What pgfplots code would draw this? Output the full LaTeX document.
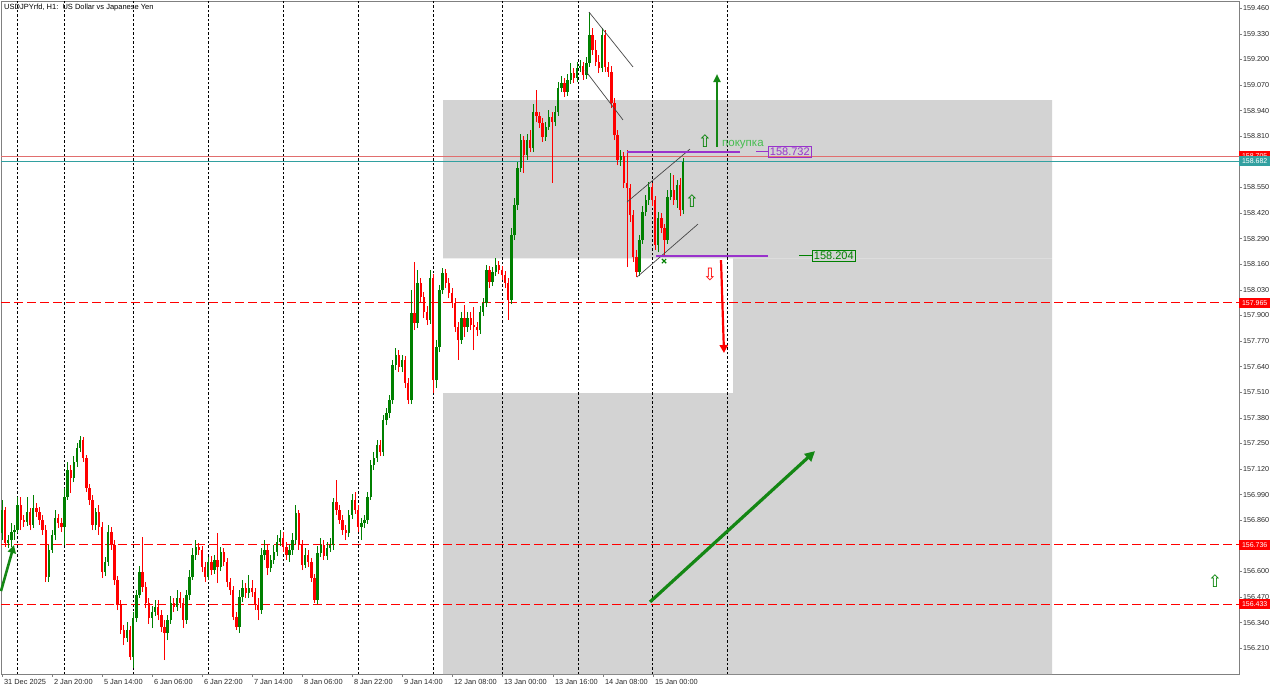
\documentclass[border=0pt]{standalone}
\usepackage{fontspec}
\setmainfont{Liberation Sans}
\newfontfamily\dejavu{DejaVu Sans}
\usepackage{pgfplots}
\usepackage{pgfplotstable}
\pgfplotsset{compat=1.18}
\usetikzlibrary{arrows.meta}
\definecolor{cgreen}{RGB}{0,128,0}
\definecolor{cred}{RGB}{255,0,0}
\definecolor{rectgray}{RGB}{211,211,211}
\definecolor{purp}{RGB}{153,50,204}
\definecolor{tealc}{RGB}{50,160,160}
\definecolor{pinkred}{RGB}{225,110,110}
\definecolor{lime2}{RGB}{70,190,80}
\definecolor{agreen}{RGB}{20,135,20}
\definecolor{tickgray}{RGB}{40,40,40}
\definecolor{chan}{RGB}{70,70,70}

\pgfplotstableread{
i o h l c
0 156.795 156.963 156.759 156.912
1 156.912 156.927 156.723 156.744
2 156.744 156.785 156.718 156.759
3 156.759 156.846 156.723 156.800
4 156.800 156.836 156.759 156.810
5 156.810 156.978 156.795 156.937
6 156.937 156.978 156.810 156.861
7 156.861 156.887 156.825 156.851
8 156.851 156.978 156.830 156.902
9 156.902 156.922 156.810 156.836
10 156.836 156.988 156.820 156.922
11 156.922 156.948 156.877 156.902
12 156.902 156.927 156.836 156.861
13 156.861 156.887 156.785 156.810
14 156.810 156.836 156.545 156.571
15 156.571 156.734 156.545 156.709
16 156.709 156.810 156.694 156.785
17 156.785 156.912 156.759 156.871
18 156.871 156.892 156.820 156.846
19 156.846 156.871 156.800 156.825
20 156.825 157.023 156.734 156.978
21 156.978 157.156 156.963 157.115
22 157.115 157.140 156.998 157.074
23 157.074 157.186 157.054 157.156
24 157.156 157.252 157.130 157.227
25 157.227 157.287 157.206 157.267
26 157.267 157.282 157.156 157.176
27 157.176 157.191 157.003 157.023
28 157.023 157.044 156.937 156.963
29 156.963 156.988 156.810 156.836
30 156.836 156.922 156.810 156.902
31 156.902 156.937 156.785 156.825
32 156.825 156.851 156.566 156.597
33 156.597 156.673 156.576 156.648
34 156.648 156.836 156.627 156.800
35 156.800 156.825 156.709 156.734
36 156.734 156.759 156.530 156.556
37 156.556 156.576 156.404 156.430
38 156.430 156.455 156.282 156.302
39 156.302 156.327 156.226 156.261
40 156.261 156.343 156.241 156.302
41 156.302 156.322 156.150 156.165
42 156.165 156.394 156.109 156.363
43 156.363 156.505 156.343 156.480
44 156.480 156.627 156.465 156.597
45 156.597 156.774 156.495 156.520
46 156.520 156.545 156.414 156.440
47 156.440 156.465 156.333 156.363
48 156.363 156.424 156.312 156.394
49 156.394 156.455 156.373 156.419
50 156.419 156.455 156.353 156.378
51 156.378 156.404 156.292 156.317
52 156.317 156.353 156.150 156.287
53 156.287 156.378 156.251 156.353
54 156.353 156.475 156.333 156.440
55 156.440 156.465 156.394 156.419
56 156.419 156.505 156.399 156.465
57 156.465 156.495 156.414 156.440
58 156.440 156.465 156.312 156.353
59 156.353 156.505 156.333 156.480
60 156.480 156.607 156.455 156.571
61 156.571 156.718 156.556 156.684
62 156.684 156.759 156.658 156.723
63 156.723 156.744 156.684 156.709
64 156.709 156.729 156.597 156.622
65 156.622 156.648 156.545 156.571
66 156.571 156.673 156.556 156.648
67 156.648 156.678 156.581 156.607
68 156.607 156.684 156.587 156.658
69 156.658 156.795 156.540 156.622
70 156.622 156.723 156.602 156.699
71 156.699 156.718 156.627 156.648
72 156.648 156.668 156.520 156.545
73 156.545 156.566 156.480 156.505
74 156.505 156.525 156.353 156.368
75 156.368 156.394 156.302 156.317
76 156.317 156.505 156.287 156.470
77 156.470 156.556 156.445 156.515
78 156.515 156.540 156.465 156.490
79 156.490 156.581 156.465 156.515
80 156.515 156.556 156.470 156.495
81 156.495 156.515 156.404 156.430
82 156.430 156.465 156.353 156.404
83 156.404 156.718 156.384 156.684
84 156.684 156.759 156.658 156.709
85 156.709 156.734 156.581 156.617
86 156.617 156.684 156.597 156.658
87 156.658 156.734 156.638 156.699
88 156.699 156.785 156.678 156.749
89 156.749 156.810 156.729 156.769
90 156.769 156.800 156.699 156.723
91 156.723 156.749 156.658 156.684
92 156.684 156.734 156.648 156.709
93 156.709 156.795 156.684 156.759
94 156.759 156.937 156.739 156.897
95 156.897 156.912 156.709 156.734
96 156.734 156.759 156.607 156.632
97 156.632 156.718 156.617 156.684
98 156.684 156.709 156.622 156.648
99 156.648 156.668 156.545 156.566
100 156.566 156.587 156.440 156.455
101 156.455 156.729 156.435 156.694
102 156.694 156.769 156.673 156.734
103 156.734 156.759 156.658 156.678
104 156.678 156.749 156.658 156.718
105 156.718 156.769 156.699 156.734
106 156.734 156.973 156.709 156.953
107 156.953 157.064 156.887 156.912
108 156.912 156.937 156.841 156.861
109 156.861 156.887 156.785 156.810
110 156.810 156.836 156.759 156.795
111 156.795 156.912 156.774 156.887
112 156.887 156.993 156.866 156.963
113 156.963 157.003 156.892 156.912
114 156.912 156.937 156.800 156.825
115 156.825 156.871 156.759 156.846
116 156.846 156.887 156.820 156.861
117 156.861 157.003 156.841 156.978
118 156.978 157.166 156.963 157.140
119 157.140 157.206 157.115 157.176
120 157.176 157.267 157.156 157.242
121 157.242 157.267 157.186 157.206
122 157.206 157.394 157.186 157.369
123 157.369 157.430 157.343 157.404
124 157.404 157.495 157.379 157.470
125 157.470 157.674 157.450 157.648
126 157.648 157.734 157.623 157.699
127 157.699 157.724 157.613 157.638
128 157.638 157.699 157.613 157.674
129 157.674 157.694 157.531 157.557
130 157.557 157.582 157.450 157.470
131 157.470 158.029 157.450 157.913
132 157.913 158.171 157.826 157.862
133 157.862 158.131 157.836 158.065
134 158.065 158.090 157.968 157.993
135 157.993 158.019 157.887 157.918
136 157.918 157.948 157.851 157.877
137 157.877 158.131 157.857 158.090
138 158.090 158.110 157.506 157.572
139 157.572 157.775 157.531 157.739
140 157.739 158.054 157.714 158.029
141 158.029 158.141 158.009 158.115
142 158.115 158.136 158.039 158.065
143 158.065 158.090 157.988 158.014
144 158.014 158.039 157.938 157.963
145 157.963 157.988 157.816 157.841
146 157.841 157.867 157.674 157.775
147 157.775 157.918 157.755 157.887
148 157.887 157.953 157.790 157.841
149 157.841 157.918 157.816 157.887
150 157.887 157.918 157.826 157.851
151 157.851 157.943 157.724 157.841
152 157.841 157.867 157.795 157.826
153 157.826 157.948 157.806 157.918
154 157.918 157.988 157.897 157.963
155 157.963 158.156 157.943 158.131
156 158.131 158.151 158.039 158.070
157 158.070 158.146 158.049 158.120
158 158.120 158.191 158.100 158.156
159 158.156 158.176 158.110 158.131
160 158.131 158.151 158.080 158.105
161 158.105 158.126 158.039 158.065
162 158.065 158.090 157.877 157.978
163 157.978 158.344 157.958 158.308
164 158.308 158.496 158.283 158.461
165 158.461 158.679 158.435 158.648
166 158.648 158.821 158.628 158.791
167 158.791 158.811 158.623 158.714
168 158.714 158.821 158.689 158.791
169 158.791 158.842 158.730 158.750
170 158.750 158.974 158.730 158.933
171 158.933 159.045 158.882 158.913
172 158.913 158.933 158.852 158.877
173 158.877 158.903 158.781 158.806
174 158.806 158.882 158.786 158.857
175 158.857 158.943 158.842 158.908
176 158.908 158.933 158.573 158.882
177 158.882 158.963 158.862 158.933
178 158.933 159.085 158.913 159.055
179 159.055 159.116 159.035 159.080
180 159.080 159.106 159.009 159.035
181 159.035 159.126 159.014 159.096
182 159.096 159.182 159.075 159.131
183 159.131 159.157 159.080 159.106
184 159.106 159.187 159.085 159.157
185 159.157 159.197 159.136 159.167
186 159.167 159.187 159.096 159.121
187 159.121 159.212 159.101 159.182
188 159.182 159.441 159.162 159.324
189 159.324 159.360 159.223 159.248
190 159.248 159.299 159.167 159.187
191 159.187 159.223 159.131 159.157
192 159.157 159.360 159.136 159.324
193 159.324 159.350 159.136 159.162
194 159.162 159.187 159.111 159.136
195 159.136 159.167 158.953 158.979
196 158.979 159.004 158.791 158.816
197 158.816 158.842 158.664 158.689
198 158.689 158.740 158.659 158.710
199 158.710 158.730 158.547 158.573
200 158.573 158.740 158.146 158.547
201 158.547 158.567 158.374 158.410
202 158.410 158.435 158.171 158.196
203 158.196 158.232 158.095 158.120
204 158.120 158.308 158.100 158.283
205 158.283 158.456 158.263 158.425
206 158.425 158.511 158.405 158.486
207 158.486 158.578 158.461 158.552
208 158.552 158.573 158.456 158.486
209 158.486 158.506 158.232 158.258
210 158.258 158.425 158.222 158.395
211 158.395 158.420 158.318 158.344
212 158.344 158.364 158.196 158.283
213 158.283 158.537 158.263 158.501
214 158.501 158.623 158.486 158.537
215 158.537 158.613 158.461 158.486
216 158.486 158.588 158.446 158.562
217 158.562 158.598 158.405 158.435
218 158.435 158.699 158.415 158.679
}\candles

\begin{document}
\begin{tikzpicture}
\useasboundingbox (0,0) rectangle (1280pt,691pt);
\begin{axis}[
  at={(1pt,17pt)}, anchor=south west,
  scale only axis, width=1238pt, height=673pt,
  xmin=1, xmax=1239, ymin=156.079, ymax=159.497,
  clip=false,
  axis line style={draw=gray, line width=0.8pt},
  tick align=outside, major tick length=3pt,
  tick style={draw=gray, line width=0.6pt},
  xtick pos=bottom, ytick pos=right, yticklabel pos=right,
  ytick={156.21,156.34,156.47,156.60,156.73,156.86,156.99,157.12,157.25,157.38,157.51,157.64,157.77,157.90,158.03,158.16,158.29,158.42,158.55,158.68,158.81,158.94,159.07,159.20,159.33,159.46},
  yticklabel style={font=\fontsize{7.2}{8}\selectfont, text=tickgray, inner xsep=1pt, /pgf/number format/.cd, fixed, fixed zerofill, precision=3, assume math mode=true},
  xtick={2,52,102,152,202,252,302,352,402,452,502,553,603,653},
  xticklabels={31 Dec 2025, 2 Jan 20:00, 5 Jan 14:00, 6 Jan 06:00, 6 Jan 22:00, 7 Jan 14:00, 8 Jan 06:00, 8 Jan 22:00, 9 Jan 14:00, 12 Jan 08:00, 13 Jan 00:00, 13 Jan 16:00, 14 Jan 08:00, 15 Jan 00:00},
  xticklabel style={font=\fontsize{7.4}{8}\selectfont, text=tickgray, anchor=north west, xshift=-1.5pt, inner ysep=2pt},
  candle/.style={draw=none, mark=none, forget plot,
    error bars/y dir=plus, error bars/y explicit, error bars/error mark=none},
]
% gray zones
\addplot[fill=rectgray, draw=none, forget plot] coordinates {(443,158.190) (1052,158.190) (1052,158.994) (443,158.994) (443,158.190)};
\addplot[fill=rectgray, draw=none, forget plot] coordinates {(733,157.506) (1052,157.506) (1052,158.190) (733,158.190) (733,157.506)};
\addplot[fill=rectgray, draw=none, forget plot] coordinates {(443,156.079) (1052,156.079) (1052,157.506) (443,157.506) (443,156.079)};
% day separators
\pgfplotsset{sep/.style={draw=black, line width=0.7pt, dash pattern=on 2.5pt off 2pt, forget plot}}
\addplot[sep] coordinates {(17,156.079) (17,159.497)};
\addplot[sep] coordinates {(64,156.079) (64,159.497)};
\addplot[sep] coordinates {(133,156.079) (133,159.497)};
\addplot[sep] coordinates {(208,156.079) (208,159.497)};
\addplot[sep] coordinates {(283,156.079) (283,159.497)};
\addplot[sep] coordinates {(358,156.079) (358,159.497)};
\addplot[sep] coordinates {(433,156.079) (433,159.497)};
\addplot[sep] coordinates {(502,156.079) (502,159.497)};
\addplot[sep] coordinates {(578,156.079) (578,159.497)};
\addplot[sep] coordinates {(652,156.079) (652,159.497)};
\addplot[sep] coordinates {(727,156.079) (727,159.497)};
% horizontal levels
\addplot[draw=pinkred, line width=1.1pt, forget plot] coordinates {(1,158.705) (1239,158.705)};
\addplot[draw=tealc, line width=1.1pt, forget plot] coordinates {(1,158.682) (1239,158.682)};
\pgfplotsset{lvl/.style={draw=cred, line width=0.9pt, dash pattern=on 9pt off 4pt, forget plot}}
\addplot[lvl] coordinates {(1,157.965) (1239,157.965)};
\addplot[lvl] coordinates {(1,156.736) (1239,156.736)};
\addplot[lvl] coordinates {(1,156.433) (1239,156.433)};
% candles: wicks and bodies
\addplot[candle, restrict expr to domain={\thisrow{c}-\thisrow{o}}{0:10},
  error bars/error bar style={draw=cgreen, solid, line width=0.9pt}]
  table[x expr=2+3.125*\thisrow{i}, y=l, y error plus expr=\thisrow{h}-\thisrow{l}] {\candles};
\addplot[candle, restrict expr to domain={\thisrow{c}-\thisrow{o}}{0:10},
  error bars/error bar style={draw=cgreen, solid, line width=2.3pt}]
  table[x expr=2+3.125*\thisrow{i}, y=o, y error plus expr=\thisrow{c}-\thisrow{o}] {\candles};
\addplot[candle, restrict expr to domain={\thisrow{c}-\thisrow{o}}{-10:0},
  error bars/error bar style={draw=cred, solid, line width=0.9pt}]
  table[x expr=2+3.125*\thisrow{i}, y=l, y error plus expr=\thisrow{h}-\thisrow{l}] {\candles};
\addplot[candle, restrict expr to domain={\thisrow{c}-\thisrow{o}}{-10:0},
  error bars/error bar style={draw=cred, solid, line width=2.3pt}]
  table[x expr=2+3.125*\thisrow{i}, y=c, y error plus expr=\thisrow{o}-\thisrow{c}] {\candles};
% channel / trend lines
\pgfplotsset{chl/.style={draw=chan, line width=0.7pt, forget plot}}
\addplot[chl] coordinates {(589,159.441) (633,159.162)};
\addplot[chl] coordinates {(585,159.146) (623,158.893)};
\addplot[chl] coordinates {(627,158.476) (690,158.745)};
\addplot[chl] coordinates {(637,158.095) (698,158.364)};
% purple levels
\addplot[draw=purp, line width=2pt, forget plot] coordinates {(627,158.732) (740,158.732)};
\addplot[draw=purp, line width=1.4pt, forget plot] coordinates {(756,158.732) (768,158.732)};
\addplot[draw=purp, line width=2pt, forget plot] coordinates {(656,158.204) (768,158.204)};
\addplot[draw=cgreen, line width=1.2pt, forget plot] coordinates {(799,158.204) (812,158.204)};
% arrows
\addplot[draw=agreen, fill=agreen, line width=1.8pt, -{Triangle[length=8pt,width=7pt]}, forget plot] coordinates {(717,158.755) (717,159.126)};
\addplot[draw=cred, fill=cred, line width=2.2pt, -{Triangle[length=8pt,width=8pt]}, forget plot] coordinates {(721,158.181) (724,157.709)};
\addplot[draw=agreen, fill=agreen, line width=3.2pt, -{Triangle[length=10pt,width=10pt]}, forget plot] coordinates {(650,156.445) (815,157.211)};
\addplot[draw=agreen, fill=agreen, line width=2.6pt, -{Triangle[length=8pt,width=8pt]}, forget plot] coordinates {(1,156.500) (14,156.734)};
\addplot[only marks, mark=x, mark size=3pt, mark options={draw=cgreen, line width=1.2pt}, forget plot] coordinates {(664,158.176)};
% hollow arrows
\node[text=cgreen, font=\dejavu\fontsize{17}{17}\selectfont, inner sep=0pt] at (axis cs:705,158.786) {⇧};
\node[text=cgreen, font=\dejavu\fontsize{17}{17}\selectfont, inner sep=0pt] at (axis cs:692,158.481) {⇧};
\node[text=cgreen, font=\dejavu\fontsize{17}{17}\selectfont, inner sep=0pt] at (axis cs:1215,156.550) {⇧};
\node[text=cred, font=\dejavu\fontsize{17}{17}\selectfont, inner sep=0pt] at (axis cs:710,158.110) {⇩};
% texts
\node[anchor=west, text=lime2, font=\fontsize{11.5}{12}\selectfont, inner sep=0pt] at (axis cs:722,158.768) {покупка};
\node[anchor=west, draw=purp, text=purp, line width=0.8pt, inner sep=1.5pt, font=\fontsize{11}{12}\selectfont] at (axis cs:768,158.732) {158.732};
\node[anchor=west, draw=cgreen, text=cgreen, line width=0.8pt, inner sep=1.5pt, font=\fontsize{11}{12}\selectfont] at (axis cs:812,158.204) {158.204};
\node[anchor=west, inner sep=0pt, font=\fontsize{7.5}{8}\selectfont] at (axis cs:4,159.466) {USDJPYrfd, H1:\ \ US Dollar vs Japanese Yen};
% price tags on the right scale
\node[anchor=west, fill=cred, text=white, inner sep=1pt, minimum width=31pt, minimum height=10pt, font=\fontsize{7}{8}\selectfont] at (axis cs:1239,158.710) {158.705};
\node[anchor=west, fill=tealc, text=white, inner sep=1pt, minimum width=31pt, minimum height=10pt, font=\fontsize{7}{8}\selectfont] at (axis cs:1239,158.682) {158.682};
\node[anchor=west, fill=cred, text=white, inner sep=1pt, minimum width=31pt, minimum height=10pt, font=\fontsize{7}{8}\selectfont] at (axis cs:1239,157.965) {157.965};
\node[anchor=west, fill=cred, text=white, inner sep=1pt, minimum width=31pt, minimum height=10pt, font=\fontsize{7}{8}\selectfont] at (axis cs:1239,156.736) {156.736};
\node[anchor=west, fill=cred, text=white, inner sep=1pt, minimum width=31pt, minimum height=10pt, font=\fontsize{7}{8}\selectfont] at (axis cs:1239,156.433) {156.433};
\end{axis}
\end{tikzpicture}
\end{document}
